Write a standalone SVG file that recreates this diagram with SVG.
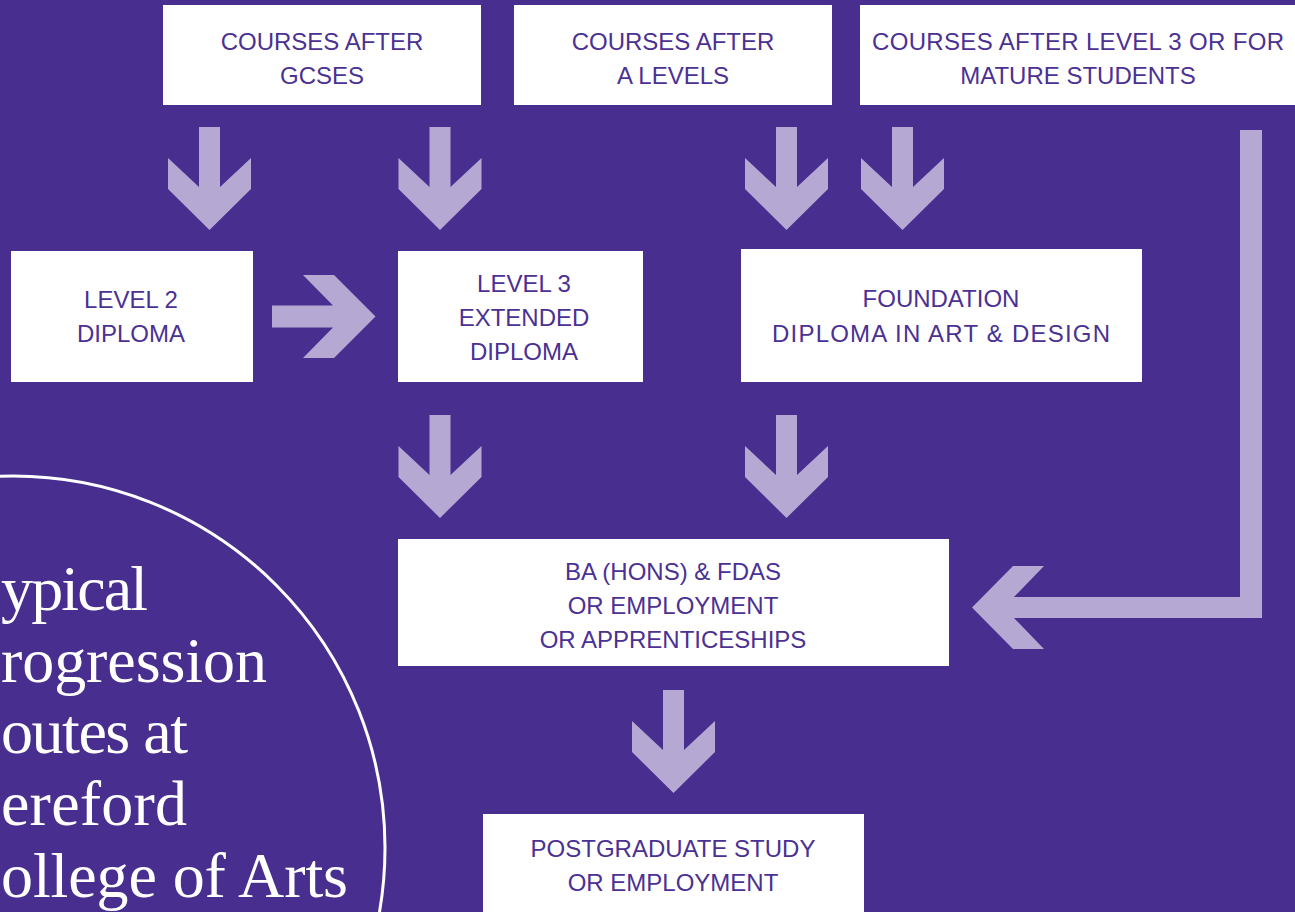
<svg xmlns="http://www.w3.org/2000/svg" width="1295" height="912" viewBox="0 0 1295 912">
<style>
.bg{fill:#482E8F}
.box{fill:#FFFFFF}
.arr{fill:#B5A9D4}
.lbl{font-family:"Liberation Sans",Arial,sans-serif;font-size:24px;fill:#4B3193;text-anchor:middle}
.title{font-family:"Liberation Serif","Times New Roman",serif;font-size:64px;fill:#FFFFFF}
</style>
<defs>
<path id="down" d="M-10.5,0 L10.5,0 L10.5,60 L41.5,31 L41.5,62 L0,103 L-41.5,62 L-41.5,31 L-10.5,60 Z"/>
</defs>
<rect class="bg" x="0" y="0" width="1295" height="912"/>

<g id="title-circle">
<circle cx="13" cy="848" r="372" fill="none" stroke="#FFFFFF" stroke-width="3"/>
<text class="title" x="1" y="610" textLength="147">ypical</text>
<text class="title" x="1" y="682" textLength="266">rogression</text>
<text class="title" x="1" y="753" textLength="187">outes at</text>
<text class="title" x="1" y="825" textLength="186">ereford</text>
<text class="title" x="1" y="897" textLength="347">ollege of Arts</text>
</g>

<g id="connectors">
<use href="#down" class="arr" x="209.5" y="127"/>
<use href="#down" class="arr" x="440" y="127"/>
<use href="#down" class="arr" x="786.5" y="127"/>
<use href="#down" class="arr" x="902.5" y="127"/>
<use href="#down" class="arr" x="440" y="415"/>
<use href="#down" class="arr" x="786.5" y="415"/>
<use href="#down" class="arr" x="673.5" y="690"/>
<path class="arr" d="M272,305.5 L333,305.5 L303,275 L334,275 L375.5,316.5 L334,358 L303,358 L333,327.5 L272,327.5 Z"/>
<path class="arr" d="M1262,130 L1262,618 L1014,618 L1044,649 L1013,649 L972,607.5 L1013,566 L1044,566 L1014,597 L1240,597 L1240,130 Z"/>
</g>

<g id="node-gcses">
<rect class="box" x="163" y="5" width="318" height="100"/>
<text class="lbl" x="322" y="50">COURSES AFTER</text>
<text class="lbl" x="322" y="84">GCSES</text>
</g>
<g id="node-alevels">
<rect class="box" x="514" y="5" width="318" height="100"/>
<text class="lbl" x="673" y="50">COURSES AFTER</text>
<text class="lbl" x="673" y="84">A LEVELS</text>
</g>
<g id="node-level3-mature">
<rect class="box" x="860" y="5" width="440" height="100"/>
<text class="lbl" x="1078" y="50" textLength="412">COURSES AFTER LEVEL 3 OR FOR</text>
<text class="lbl" x="1078" y="84">MATURE STUDENTS</text>
</g>
<g id="node-level2">
<rect class="box" x="11" y="251" width="242" height="131"/>
<text class="lbl" x="131" y="308">LEVEL 2</text>
<text class="lbl" x="131" y="342">DIPLOMA</text>
</g>
<g id="node-level3">
<rect class="box" x="398" y="251" width="245" height="131"/>
<text class="lbl" x="524" y="292">LEVEL 3</text>
<text class="lbl" x="524" y="326">EXTENDED</text>
<text class="lbl" x="524" y="360">DIPLOMA</text>
</g>
<g id="node-foundation">
<rect class="box" x="741" y="249" width="401" height="133"/>
<text class="lbl" x="941" y="307">FOUNDATION</text>
<text class="lbl" x="941" y="342" textLength="338">DIPLOMA IN ART &amp; DESIGN</text>
</g>
<g id="node-ba">
<rect class="box" x="398" y="539" width="551" height="127"/>
<text class="lbl" x="673" y="580">BA (HONS) &amp; FDAS</text>
<text class="lbl" x="673" y="614">OR EMPLOYMENT</text>
<text class="lbl" x="673" y="648">OR APPRENTICESHIPS</text>
</g>
<g id="node-postgrad">
<rect class="box" x="483" y="814" width="381" height="110"/>
<text class="lbl" x="673" y="857">POSTGRADUATE STUDY</text>
<text class="lbl" x="673" y="891">OR EMPLOYMENT</text>
</g>
</svg>
